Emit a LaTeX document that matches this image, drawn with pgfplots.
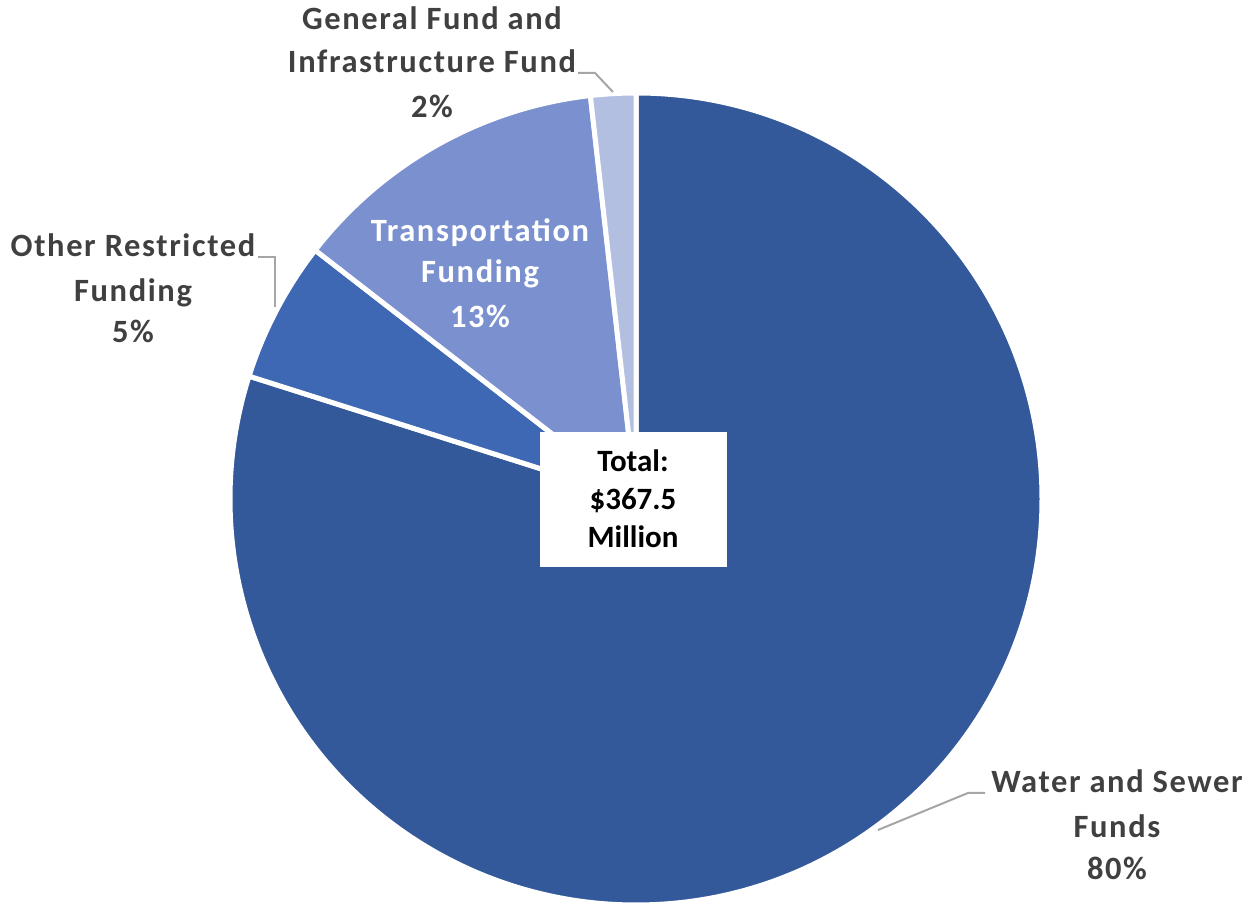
\documentclass[border=0pt]{standalone}
\usepackage{pgfplots}
\pgfplotsset{compat=1.18}
\usepackage{fontspec}
\setmainfont{Carlito}
\newfontfamily\lbl{Carlito}[LetterSpace=5]
\definecolor{cWater}{HTML}{34599A}
\definecolor{cOther}{HTML}{3E68B3}
\definecolor{cTrans}{HTML}{7B91CF}
\definecolor{cGen}{HTML}{B3BFE0}
\definecolor{txt}{HTML}{404040}
\definecolor{lead}{HTML}{A6A6A6}
% values in $ million
\def\vWater{293.6}
\def\vOther{20.6}
\def\vTrans{46.7}
\def\vGen{6.6}
\pgfmathsetmacro\vTot{\vWater+\vOther+\vTrans+\vGen}
\pgfmathsetmacro\aA{90}
\pgfmathsetmacro\aB{\aA-360*(\vWater/\vTot)}
\pgfmathsetmacro\aC{\aB-360*(\vOther/\vTot)}
\pgfmathsetmacro\aD{\aC-360*(\vTrans/\vTot)}
\pgfmathsetmacro\aE{\aD-360*(\vGen/\vTot)}
\def\R{162.4pt}
\begin{document}
\begin{tikzpicture}[font=\fontsize{12.4}{15}\selectfont\bfseries]
\begin{axis}[
  width=498.4pt, height=362.4pt, scale only axis,
  xmin=0, xmax=1246, ymin=0, ymax=906,
  hide axis, clip=false,
]
\path (axis cs:0,0) rectangle (axis cs:1246,906);
\coordinate (C) at (axis cs:636,407);
% label anchors
\coordinate (G1) at (axis cs:432,876);
\coordinate (G2) at (axis cs:432,833);
\coordinate (G3) at (axis cs:432,788);
\coordinate (O1) at (axis cs:133,649);
\coordinate (O2) at (axis cs:133,604);
\coordinate (O3) at (axis cs:133,563);
\coordinate (T1) at (axis cs:480,664);
\coordinate (T2) at (axis cs:480,623);
\coordinate (T3) at (axis cs:480,578);
\coordinate (W1) at (axis cs:1117,113);
\coordinate (W2) at (axis cs:1117,68);
\coordinate (W3) at (axis cs:1117,26);
\coordinate (L1a) at (axis cs:578,833);
\coordinate (L1b) at (axis cs:595,833);
\coordinate (L1c) at (axis cs:613,814);
\coordinate (L2a) at (axis cs:258,649);
\coordinate (L2b) at (axis cs:275,649);
\coordinate (L2c) at (axis cs:275,599);
\coordinate (L3a) at (axis cs:878,76);
\coordinate (L3b) at (axis cs:968,113);
\coordinate (L3c) at (axis cs:985,113);
\coordinate (B1) at (axis cs:540,339);
\coordinate (B2) at (axis cs:727,474);
\coordinate (X1) at (axis cs:633,434);
\coordinate (X2) at (axis cs:633,396);
\coordinate (X3) at (axis cs:633,358);
\end{axis}
\begin{scope}[draw=white, line width=2pt, line join=round]
\filldraw[fill=cWater] (C) -- ++(\aA:\R) arc[start angle=\aA, end angle=\aB, radius=\R] -- cycle;
\filldraw[fill=cOther] (C) -- ++(\aB:\R) arc[start angle=\aB, end angle=\aC, radius=\R] -- cycle;
\filldraw[fill=cTrans] (C) -- ++(\aC:\R) arc[start angle=\aC, end angle=\aD, radius=\R] -- cycle;
\filldraw[fill=cGen] (C) -- ++(\aD:\R) arc[start angle=\aD, end angle=\aE, radius=\R] -- cycle;
\end{scope}
\draw[lead, line width=0.8pt] (L1a) -- (L1b) -- (L1c);
\draw[lead, line width=0.8pt] (L2a) -- (L2b) -- (L2c);
\draw[lead, line width=0.8pt] (L3a) -- (L3b) -- (L3c);
\begin{scope}[every node/.style={anchor=base, inner sep=0pt, text=txt, font=\fontsize{13}{15}\lbl\bfseries}]
\node at (G1) {General Fund and};
\node at (G2) {Infrastructure Fund};
\node at (G3) {2\%};
\node at (O1) {Other Restricted};
\node at (O2) {Funding};
\node at (O3) {5\%};
\node at (W1) {Water and Sewer};
\node at (W2) {Funds};
\node at (W3) {80\%};
\node[text=white] at (T1) {Transportation};
\node[text=white] at (T2) {Funding};
\node[text=white] at (T3) {13\%};
\end{scope}
\fill[white] (B1) rectangle (B2);
\begin{scope}[every node/.style={anchor=base, inner sep=0pt, text=black}]
\node at (X1) {Total:};
\node at (X2) {\$367.5};
\node at (X3) {Million};
\end{scope}
\end{tikzpicture}
\end{document}
